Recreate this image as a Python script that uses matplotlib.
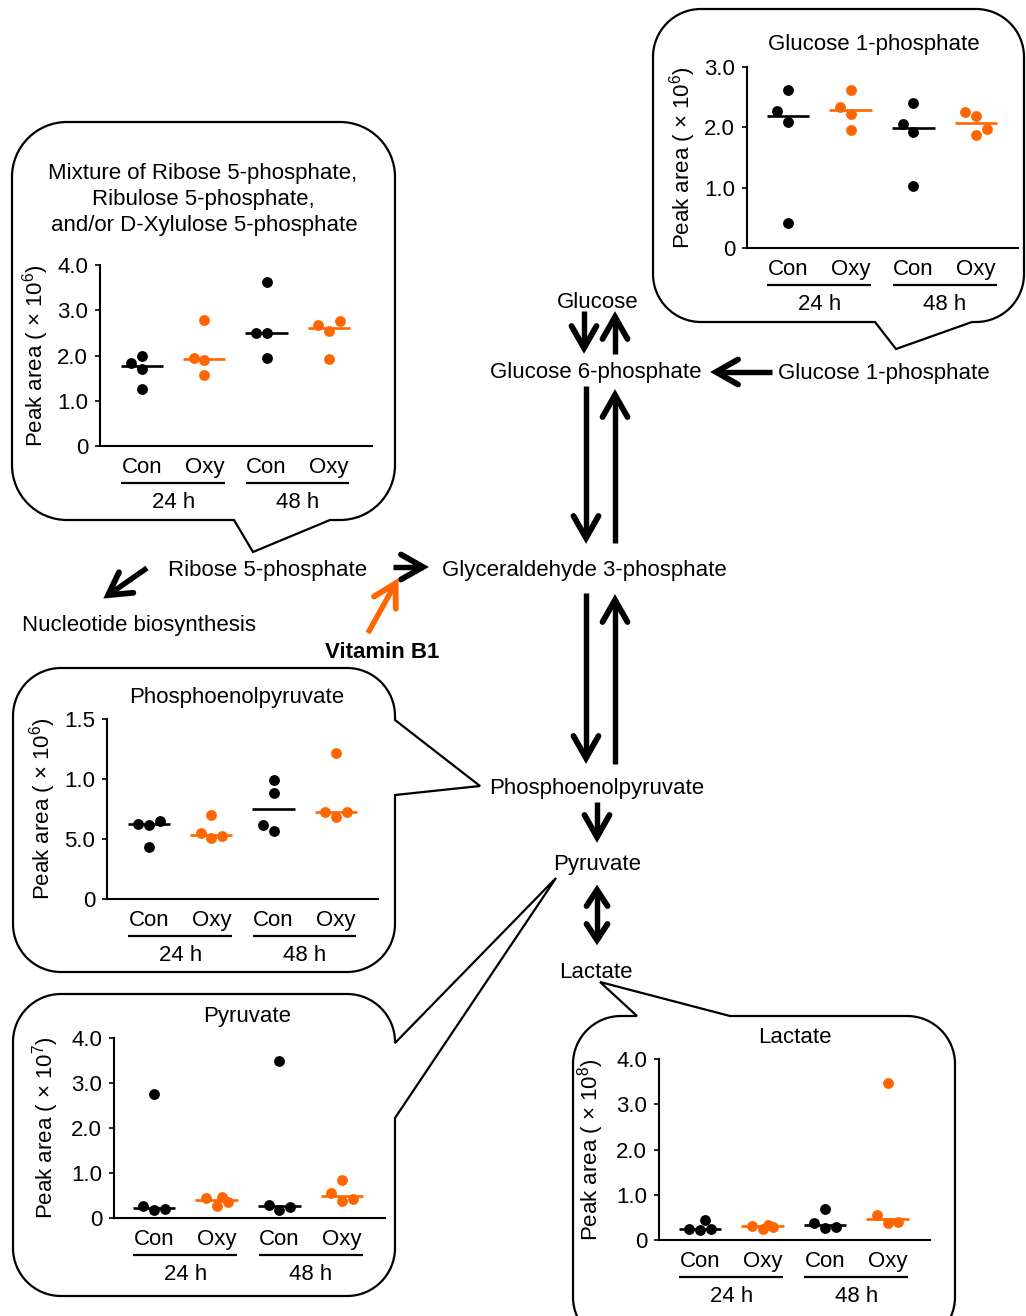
import numpy as np
import matplotlib.pyplot as plt
from matplotlib.path import Path
from matplotlib.patches import PathPatch
from matplotlib import transforms

plt.rcParams['font.family'] = ['Liberation Sans', 'DejaVu Sans']
plt.rcParams['mathtext.fontset'] = 'custom'
plt.rcParams['mathtext.rm'] = 'Liberation Sans'

W, H = 1026, 1316
ORANGE = '#FF6600'
FS = 16
TFS = 16

# x categories
groups = ['Con', 'Oxy', 'Con', 'Oxy']
times = ['24 h', '48 h']

# peak areas per group (Con 24 h, Oxy 24 h, Con 48 h, Oxy 48 h), replicate order
g1p = [[0.41, 2.09, 2.27, 2.62], [1.95, 2.22, 2.34, 2.62],
       [1.02, 1.92, 2.06, 2.40], [1.87, 2.19, 2.25, 1.97]]
r5p = [[1.25, 1.70, 1.83, 2.00], [1.58, 1.90, 1.95, 2.78],
       [1.94, 2.49, 2.49, 3.63], [1.92, 2.54, 2.67, 2.76]]
pep = [[0.436, 0.617, 0.625, 0.652], [0.51, 0.547, 0.527, 0.70],
       [0.569, 0.617, 0.886, 0.992], [0.686, 0.727, 0.722, 1.219]]
pyr = [[0.17, 0.26, 0.20, 2.75], [0.267, 0.437, 0.348, 0.46],
       [0.18, 0.29, 0.24, 3.50], [0.385, 0.548, 0.415, 0.844]]
lac = [[0.22, 0.25, 0.25, 0.44], [0.24, 0.32, 0.28, 0.34],
       [0.26, 0.38, 0.29, 0.68], [0.37, 0.55, 0.39, 3.46]]

ticks4 = [0, 1, 2, 3, 4]
ticklab4 = ['0', '1.0', '2.0', '3.0', '4.0']
ticks3 = [0, 1, 2, 3]
ticklab3 = ['0', '1.0', '2.0', '3.0']
ticks_pep = [0, 0.5, 1.0, 1.5]
ticklab_pep = ['0', '5.0', '1.0', '1.5']

fig = plt.figure(figsize=(W / 100, H / 100), dpi=100)
bg = fig.add_axes([0, 0, 1, 1])
bg.set_xlim(0, W)
bg.set_ylim(H, 0)
bg.axis('off')


def swarm(vals, ppu, d=10.8, gap=11.5):
    # simple column beeswarm, offsets in pixels
    placed = []
    side = -1
    offs = []
    for v in vals:
        y = v * ppu

        def free(c):
            return all(abs(y - py) >= gap for pc, py in placed if pc == c)

        if free(0):
            col = 0
        elif free(side):
            col = side
            side = -col
        elif free(-side):
            col = -side
            side = -col
        else:
            col = 0.5
        placed.append((col, y))
        offs.append(col * d)
    return np.array(offs)


def callout(x0, y0, x1, y1, r, side, tail):
    k = 0.5523 * r
    M, L_, C = Path.MOVETO, Path.LINETO, Path.CURVE4
    v = [(x0 + r, y0)]
    c = [M]
    if side == 'top':
        v += tail
        c += [L_] * len(tail)
    v += [(x1 - r, y0), (x1 - r + k, y0), (x1, y0 + r - k), (x1, y0 + r)]
    c += [L_, C, C, C]
    if side == 'right':
        v += tail
        c += [L_] * len(tail)
    v += [(x1, y1 - r), (x1, y1 - r + k), (x1 - r + k, y1), (x1 - r, y1)]
    c += [L_, C, C, C]
    if side == 'bottom':
        v += tail
        c += [L_] * len(tail)
    v += [(x0 + r, y1), (x0 + r - k, y1), (x0, y1 - r + k), (x0, y1 - r)]
    c += [L_, C, C, C]
    v += [(x0, y0 + r), (x0, y0 + r - k), (x0 + r - k, y0), (x0 + r, y0)]
    c += [L_, C, C, C]
    v.append((x0 + r, y0))
    c.append(Path.CLOSEPOLY)
    bg.add_patch(PathPatch(Path(v, c), facecolor='white', edgecolor='black',
                           lw=1.6, joinstyle='miter', zorder=1))


def head(x0, y0, x1, y1, color, back=22, half=12.5):
    u = np.array([x1 - x0, y1 - y0], float)
    u /= np.hypot(*u)
    n = np.array([-u[1], u[0]])
    tip = np.array([x1, y1]) - 5 * u
    a = tip - back * u + half * n
    b = tip - back * u - half * n
    bg.plot([a[0], tip[0], b[0]], [a[1], tip[1], b[1]], color=color, lw=4.2,
            solid_joinstyle='miter', solid_capstyle='round', zorder=4)
    return tip


def arrow(x0, y0, x1, y1, color='black', both=False):
    if both:
        tip = head(x0, y0, x1, y1, color, back=16, half=10.5)
        start = head(x1, y1, x0, y0, color, back=16, half=10.5)
    else:
        tip = head(x0, y0, x1, y1, color)
        start = np.array([x0, y0], float)
    bg.plot([start[0], tip[0]], [start[1], tip[1]], color=color, lw=3.9,
            solid_capstyle='butt', zorder=4)


def label(x, y, s, **kw):
    bg.text(x, y, s, ha='center', va='center_baseline', fontsize=FS, zorder=5, **kw)


def panel(L, R, T, B, c0, sp, vals, ymax, yticks, yticklabels, exp, lab_off):
    ax = fig.add_axes([L / W, 1 - B / H, (R - L) / W, (B - T) / H])
    ax.set_facecolor('none')
    ax.set_xlim((L - c0) / sp, (R - c0) / sp)
    ax.set_ylim(0, ymax)
    ppu = (B - T) / ymax
    for i, g in enumerate(vals):
        col = 'black' if i % 2 == 0 else ORANGE
        offs = swarm(g, ppu)
        ax.plot(i + offs / sp, g, 'o', ms=7.8, color=col, mec='none',
                clip_on=False, zorder=3)
        m = np.median(g)
        ax.plot([i - 0.34, i + 0.34], [m, m], color=col, lw=1.9,
                solid_capstyle='butt', zorder=2)
    for s in ['top', 'right']:
        ax.spines[s].set_visible(False)
    for s in ['left', 'bottom']:
        ax.spines[s].set_linewidth(1.5)
    ax.set_xticks(range(4), groups)
    ax.tick_params(axis='x', length=0, pad=8, labelsize=FS)
    ax.set_yticks(yticks, yticklabels)
    ax.tick_params(axis='y', direction='out', length=3.6, width=1.2, pad=5,
                   labelsize=TFS)
    ax.set_ylabel(f'Peak area ( × 10$^{{{exp}}}$)', fontsize=FS)
    ax.yaxis.set_label_coords(-(lab_off - 16) / (R - L), 0.5)
    tr = transforms.blended_transform_factory(ax.transData, ax.transAxes)
    h = B - T
    for j, t in enumerate(times):
        a, b = 2 * j, 2 * j + 1
        ax.plot([a - 0.33, b + 0.33], [-37 / h] * 2, color='black', lw=1.6,
                transform=tr, clip_on=False, solid_capstyle='butt')
        ax.text((a + b) / 2, -54 / h, t, transform=tr, ha='center',
                va='center_baseline', fontsize=FS)
    return ax


# callout frames
callout(653, 9, 1024, 322, 48, 'bottom', [(972, 322), (896, 349), (875, 322)])
callout(12, 122, 395, 520, 55, 'bottom', [(330, 520), (253, 552), (234, 520)])
callout(13, 668, 395, 972, 48, 'right', [(395, 720), (480, 786), (395, 795)])
callout(13, 994, 395, 1296, 48, 'right', [(395, 1043), (556, 878), (395, 1118)])
callout(573, 1016, 955, 1345, 48, 'top', [(637, 1016), (600, 982), (730, 1016)])

# callout titles
label(874, 42, 'Glucose 1-phosphate')
label(203, 171, 'Mixture of Ribose 5-phosphate,')
label(203, 197, 'Ribulose 5-phosphate,')
label(204, 223, 'and/or D-Xylulose 5-phosphate')
label(237, 695, 'Phosphoenolpyruvate')
label(247, 1014, 'Pyruvate')
label(795, 1035, 'Lactate')

# pathway
label(598, 300, 'Glucose')
label(596, 370, 'Glucose 6-phosphate')
label(884, 371, 'Glucose 1-phosphate')
label(584, 568, 'Glyceraldehyde 3-phosphate')
label(268, 568, 'Ribose 5-phosphate')
label(139, 623, 'Nucleotide biosynthesis')
label(382, 650, 'Vitamin B1', fontweight='bold')
label(597, 786, 'Phosphoenolpyruvate')
label(597, 862, 'Pyruvate')
label(596, 970, 'Lactate')

arrow(584, 311, 584, 353)
arrow(615, 354, 615, 312)
arrow(772, 372, 711, 372)
arrow(586, 386, 586, 543)
arrow(615, 543, 615, 390)
arrow(393, 567, 428, 567)
arrow(368, 633, 398, 579, color=ORANGE)
arrow(147, 568, 104, 598)
arrow(586, 593, 586, 763)
arrow(615, 764, 615, 595)
arrow(597, 802, 597, 842)
arrow(597, 885, 597, 945, both=True)

# scatter panels
panel(747, 1018, 67, 248, 788, 62.7, g1p, 3.0, ticks3, ticklab3, 6, 65)
panel(100, 372, 265, 446, 142, 62.3, r5p, 4.0, ticks4, ticklab4, 6, 65)
panel(107, 378, 719, 899, 149, 62.3, pep, 1.5, ticks_pep, ticklab_pep, 6, 65)
panel(114, 385, 1038, 1218, 154, 62.7, pyr, 4.0, ticks4, ticklab4, 7, 69)
panel(659, 930, 1059, 1240, 700, 62.5, lac, 4.0, ticks4, ticklab4, 8, 69)

fig.savefig('out.png', dpi=100)
